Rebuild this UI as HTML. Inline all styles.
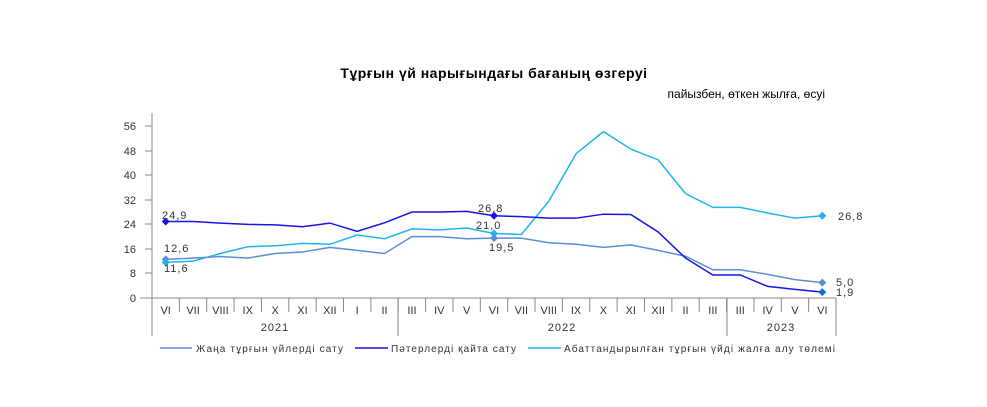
<!DOCTYPE html><html><head><meta charset="utf-8"><style>body{margin:0;background:#fff}svg{display:block}text{font-family:"Liberation Sans","DejaVu Sans",sans-serif}</style></head><body>
<svg width="987" height="407" viewBox="0 0 987 407">
<text x="494" y="78" text-anchor="middle" font-size="14" font-weight="bold" fill="#000" letter-spacing="0.5">Тұрғын үй нарығындағы  бағаның  өзгеруі</text>
<text x="825" y="98" text-anchor="end" font-size="12" fill="#000">пайызбен, өткен жылға, өсуі</text>
<g font-size="11" fill="#333" text-anchor="end" font-family="DejaVu Sans">
<text x="136" y="302">0</text><text x="136" y="277">8</text><text x="136" y="253">16</text><text x="136" y="228">24</text><text x="136" y="204">32</text><text x="136" y="179">40</text><text x="136" y="155">48</text><text x="136" y="130">56</text></g>
<g stroke="#888" stroke-width="1">
<line x1="152" y1="113" x2="152" y2="336"/><line x1="140" y1="298" x2="836" y2="298"/>
<line x1="145" y1="126" x2="152" y2="126"/><line x1="145" y1="151" x2="152" y2="151"/><line x1="145" y1="175" x2="152" y2="175"/><line x1="145" y1="200" x2="152" y2="200"/><line x1="145" y1="224" x2="152" y2="224"/><line x1="145" y1="249" x2="152" y2="249"/><line x1="145" y1="273" x2="152" y2="273"/>
<line x1="398" y1="298" x2="398" y2="336"/><line x1="727" y1="298" x2="727" y2="336"/><line x1="836" y1="298" x2="836" y2="336"/>
</g>
<g id="ticks" stroke="#888"></g>
<g id="xl" font-size="11" fill="#333" text-anchor="middle" font-family="DejaVu Sans"></g>
<g font-size="11" fill="#333" text-anchor="middle" font-family="DejaVu Sans" letter-spacing="1">
<text x="275" y="331">2021</text><text x="562" y="331">2022</text><text x="781" y="331">2023</text></g>
<polyline id="s3" fill="none" stroke="#1EB4F0" stroke-width="1.5"/>
<polyline id="s1" fill="none" stroke="#5B8ED4" stroke-width="1.5"/>
<polyline id="s2" fill="none" stroke="#1515E8" stroke-width="1.5"/>
<g id="mk"></g>
<g font-size="11" fill="#333" font-family="DejaVu Sans" letter-spacing="1">
<text x="162" y="219">24,9</text><text x="164" y="252">12,6</text><text x="164" y="272">11,6</text>
<text x="478" y="212">26,8</text><text x="476" y="229">21,0</text><text x="489" y="251">19,5</text>
<text x="838" y="220">26,8</text><text x="836" y="286">5,0</text><text x="836" y="296">1,9</text></g>
<g font-size="10" fill="#333" font-family="DejaVu Sans" letter-spacing="1">
<line x1="160" y1="348" x2="192" y2="348" stroke="#5B8ED4" stroke-width="1.5"/><text x="196" y="352" textLength="148" lengthAdjust="spacing">Жаңа тұрғын үйлерді сату</text>
<line x1="355" y1="348" x2="388" y2="348" stroke="#1515E8" stroke-width="1.5"/><text x="391" y="352" textLength="126" lengthAdjust="spacing">Пәтерлерді қайта сату</text>
<line x1="528" y1="348" x2="561" y2="348" stroke="#1EB4F0" stroke-width="1.5"/><text x="564" y="352" textLength="272" lengthAdjust="spacing">Абаттандырылған тұрғын үйді жалға алу төлемі</text></g>
</svg>
<script>
var L=["VI","VII","VIII","IX","X","XI","XII","I","II","III","IV","V","VI","VII","VIII","IX","X","XI","XII","II","III","III","IV","V","VI"];
var s1=[12.6,13,13.5,13,14.5,15,16.5,15.5,14.5,20,20,19.3,19.5,19.5,18,17.5,16.5,17.3,15.5,13.6,9.2,9.2,7.7,6,5.0];
var s2=[24.9,24.9,24.4,24,23.8,23.2,24.4,21.7,24.5,28,28,28.2,26.8,26.5,26,26,27.3,27.2,21.5,13,7.5,7.5,3.8,2.8,1.9];
var s3=[11.6,12,14.5,16.7,17,17.8,17.5,20.5,19.3,22.5,22.2,22.8,21,20.7,31.5,47,54.2,48.5,45,34,29.5,29.5,27.7,26,26.8];
var W=27.36,ns="http://www.w3.org/2000/svg";
function X(i){return 152+W/2+i*W}function Y(v){return 298-v*3.07}
var t=document.getElementById("ticks"),xl=document.getElementById("xl");
for(var i=1;i<25;i++){var l=document.createElementNS(ns,"line");l.setAttribute("x1",152+i*W);l.setAttribute("x2",152+i*W);l.setAttribute("y1",298);l.setAttribute("y2",312);t.appendChild(l);}
L.forEach(function(s,i){var e=document.createElementNS(ns,"text");e.setAttribute("x",X(i));e.setAttribute("y",314);e.textContent=s;xl.appendChild(e);});
function pl(id,d){document.getElementById(id).setAttribute("points",d.map(function(v,i){return X(i)+","+Y(v)}).join(" "));}
pl("s1",s1);pl("s2",s2);pl("s3",s3);
var mk=document.getElementById("mk");
function m(i,v,c){var p=document.createElementNS(ns,"polygon"),x=X(i),y=Y(v);p.setAttribute("points",x+","+(y-4)+" "+(x+4)+","+y+" "+x+","+(y+4)+" "+(x-4)+","+y);p.setAttribute("fill",c);mk.appendChild(p);}
m(0,12.6,"#5B8ED4");m(0,24.9,"#1515E8");m(0,11.6,"#1EB4F0");m(12,26.8,"#1515E8");m(12,21,"#1EB4F0");m(12,19.5,"#5B8ED4");m(24,26.8,"#1EB4F0");m(24,5,"#5B8ED4");m(24,1.9,"#1070D0");
</script>
</body></html>
